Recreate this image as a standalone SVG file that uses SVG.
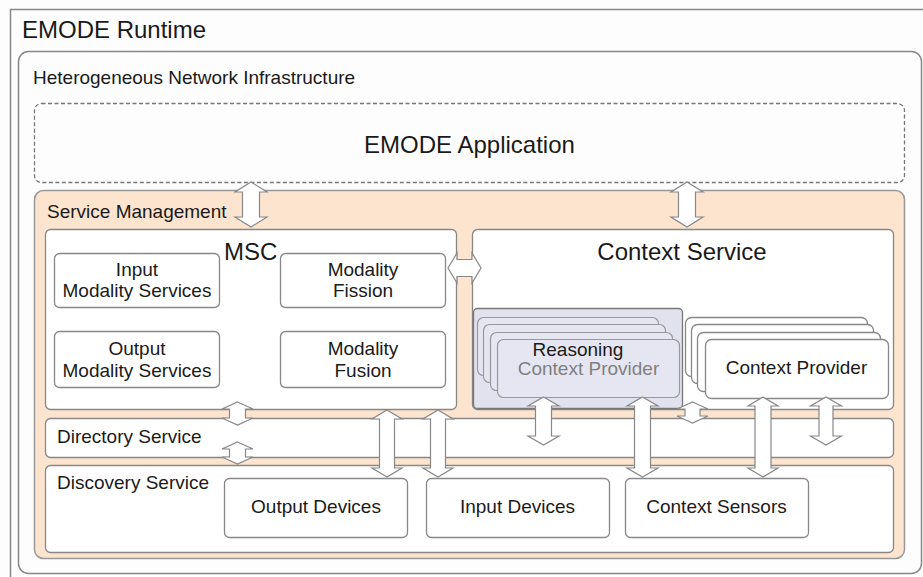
<svg xmlns="http://www.w3.org/2000/svg" width="923" height="577" viewBox="0 0 923 577">
<style>
text{font-family:"Liberation Sans",Arial,sans-serif;fill:#1a1a1a}
.big{font-size:24px}
.med{font-size:19px}
.mid{text-anchor:middle}
.box{fill:#fff;stroke:#888;stroke-width:1.3}
.arr{fill:#fff;stroke:#888;stroke-width:1.2;stroke-linejoin:miter}
.lav{fill:#e6e6f2;stroke:#999;stroke-width:1.2}
</style>
<rect width="923" height="577" fill="#fdfdfd"/>
<g id="runtime">
<rect x="10.5" y="9.5" width="930" height="600" fill="#fdfdfd" stroke="#888" stroke-width="1.5"/>
<text class="big" x="22" y="38">EMODE Runtime</text>
</g>
<g id="network">
<rect x="18.5" y="51.5" width="903" height="522" rx="10" fill="#fdfdfd" stroke="#888" stroke-width="1.5"/>
<text class="med" x="33" y="84">Heterogeneous Network Infrastructure</text>
</g>
<g id="application">
<rect x="34.5" y="103.5" width="870" height="79" rx="7" fill="#fdfdfd" stroke="#777" stroke-width="1.3" stroke-dasharray="4 2.5"/>
<text class="big mid" x="469.5" y="153">EMODE Application</text>
</g>
<g id="service-management">
<rect x="34.5" y="190.5" width="870" height="368" rx="9" fill="#fde4ce" stroke="#999" stroke-width="1.5"/>
<text class="med" x="47" y="218">Service Management</text>
</g>
<g id="msc">
<rect class="box" x="45.5" y="229.5" width="411" height="180" rx="5"/>
<text class="big" x="224" y="260">MSC</text>
</g>
<g id="input-modality">
<rect class="box" x="54.5" y="253.5" width="165" height="54" rx="5"/>
<text class="med mid" x="137" y="276">Input</text>
<text class="med mid" x="137" y="297">Modality Services</text>
</g>
<g id="modality-fission">
<rect class="box" x="280.5" y="253.5" width="165" height="54" rx="5"/>
<text class="med mid" x="363" y="276">Modality</text>
<text class="med mid" x="363" y="297">Fission</text>
</g>
<g id="output-modality">
<rect class="box" x="54.5" y="331.5" width="165" height="56" rx="5"/>
<text class="med mid" x="137" y="355">Output</text>
<text class="med mid" x="137" y="377">Modality Services</text>
</g>
<g id="modality-fusion">
<rect class="box" x="280.5" y="331.5" width="165" height="56" rx="5"/>
<text class="med mid" x="363" y="355">Modality</text>
<text class="med mid" x="363" y="377">Fusion</text>
</g>
<g id="context-service">
<rect class="box" x="472.5" y="229.5" width="421" height="180" rx="5"/>
<text class="big mid" x="682" y="260">Context Service</text>
</g>
<g id="reasoning-provider">
<rect x="473.5" y="308.5" width="209" height="100" rx="4" fill="#e2e2ee" stroke="#777" stroke-width="1.3"/>
<rect class="lav" x="477.5" y="317.5" width="181" height="58" rx="6"/>
<rect class="lav" x="483.5" y="324.5" width="182" height="58" rx="6"/>
<rect class="lav" x="490.5" y="332.5" width="182" height="58" rx="6"/>
<rect class="lav" x="497.5" y="339.5" width="182" height="58" rx="6"/>
<text class="med mid" x="578" y="356">Reasoning</text>
<text class="med mid" x="588.5" y="375" style="fill:#808080">Context Provider</text>
</g>
<g id="context-provider">
<rect class="box" x="685.5" y="317.5" width="182" height="59" rx="6"/>
<rect class="box" x="691.5" y="324.5" width="182" height="59" rx="6"/>
<rect class="box" x="697.5" y="332.5" width="183" height="59" rx="6"/>
<rect class="box" x="705.5" y="339.5" width="183" height="59" rx="6"/>
<text class="med mid" x="796.5" y="374">Context Provider</text>
</g>
<g id="directory-service">
<rect class="box" x="45.5" y="418.5" width="848" height="39" rx="5"/>
<text class="med" x="57" y="443">Directory Service</text>
</g>
<g id="discovery-service">
<rect class="box" x="45.5" y="465.5" width="848" height="87" rx="5"/>
<text class="med" x="57" y="489">Discovery Service</text>
</g>
<g id="output-devices">
<rect class="box" x="224.5" y="478.5" width="183" height="59" rx="5"/>
<text class="med mid" x="316" y="513">Output Devices</text>
</g>
<g id="input-devices">
<rect class="box" x="426.5" y="478.5" width="183" height="59" rx="5"/>
<text class="med mid" x="517.5" y="513">Input Devices</text>
</g>
<g id="context-sensors">
<rect class="box" x="625.5" y="478.5" width="183" height="59" rx="5"/>
<text class="med mid" x="716.5" y="513">Context Sensors</text>
</g>
<g id="connectors">
<polygon class="arr" points="251,182 267,192 259.5,192 259.5,217 267,217 251,227 235,217 242.5,217 242.5,192 235,192"/>
<polygon class="arr" points="687,182 703,192 695.5,192 695.5,217 703,217 687,227 671,217 678.5,217 678.5,192 671,192"/>
<polygon class="arr" points="448,268 457,253 457,259.5 472,259.5 472,253 481,268 472,283 472,276.5 457,276.5 457,283"/>
<polygon class="arr" points="237.5,402 253,409 245.5,409 245.5,418 253,418 237.5,425 222,418 229.5,418 229.5,409 222,409"/>
<polygon class="arr" points="237.5,442 253,449 245.5,449 245.5,457 253,457 237.5,464 222,457 229.5,457 229.5,449 222,449"/>
<polygon class="arr" points="387,410 402,419 394.5,419 394.5,468 402,468 387,477 372,468 379.5,468 379.5,419 372,419"/>
<polygon class="arr" points="438,410 453,419 445.5,419 445.5,468 453,468 438,477 423,468 430.5,468 430.5,419 423,419"/>
<polygon class="arr" points="543.5,397 559,406 551.5,406 551.5,436 559,436 543.5,445 528,436 535.5,436 535.5,406 528,406"/>
<polygon class="arr" points="642.5,397 658,406 650.5,406 650.5,468 658,468 642.5,477 627,468 634.5,468 634.5,406 627,406"/>
<polygon class="arr" points="692.5,402 708,409 700,409 700,416 708,416 692.5,423 677,416 685,416 685,409 677,409"/>
<polygon class="arr" points="763,397 778,406 771,406 771,468 778,468 763,477 748,468 755,468 755,406 748,406"/>
<polygon class="arr" points="826,397 841.5,406 833,406 833,436 841.5,436 826,445 810.5,436 819,436 819,406 810.5,406"/>
</g>
</svg>
